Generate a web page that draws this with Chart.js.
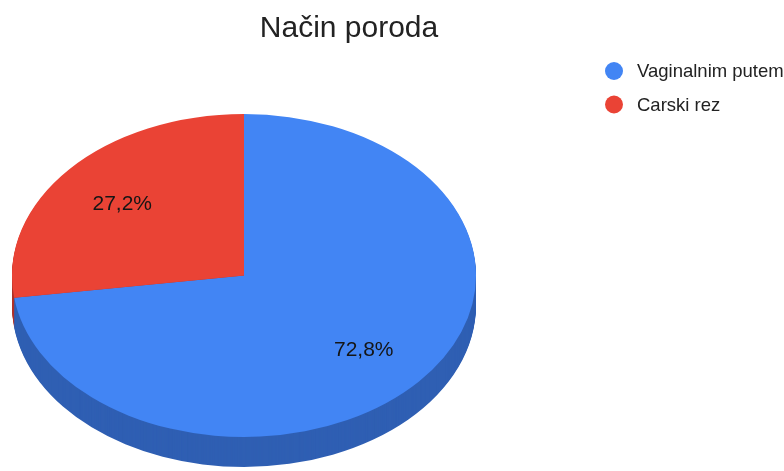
<!DOCTYPE html>
<html>
<head>
<meta charset="utf-8">
<script src="https://cdn.jsdelivr.net/npm/chart.js@4.4.0/dist/chart.umd.min.js"></script>
<style>
  html, body { margin: 0; padding: 0; background: #fff; }
  #wrap { width: 784px; height: 471px; }
</style>
</head>
<body>
<div id="wrap"><canvas id="grafikon" width="784" height="471"></canvas></div>
<script>
// Podaci
const naslov = 'Način poroda';
const kategorije = ['Vaginalnim putem', 'Carski rez'];
const postoci = [72.8, 27.2];
const oznake = ['72,8%', '27,2%'];
const boje = ['#4285f4', '#ea4335'];
const bojeBok = ['#2f5fb3', '#b0342a'];

// Izgled "3D" pite
const sredinaY = 275.5;   // sredina gornje plohe
const omjer = 0.696;      // spljostenost elipse
const dubina = 30;        // debljina pite
const font = "'Liberation Sans', Arial, sans-serif";

function putanja(ctx, a) {
    ctx.beginPath();
    ctx.moveTo(a.x, a.y);
    ctx.arc(a.x, a.y, a.outerRadius, a.startAngle, a.endAngle);
    ctx.closePath();
}

const pita3d = {
    id: 'pita3d',
    beforeDatasetsDraw(chart) {
        const ctx = chart.ctx;
        const arcs = chart.getDatasetMeta(0).data;
        const cy = arcs[0].y;
        // bok pite - zadnji isjecak prvi
        for (let i = arcs.length - 1; i >= 0; i--) {
            for (let d = dubina; d > 0; d--) {
                ctx.save();
                ctx.translate(0, sredinaY + d);
                ctx.scale(1, omjer);
                ctx.translate(0, -cy);
                ctx.fillStyle = bojeBok[i];
                putanja(ctx, arcs[i]);
                ctx.fill();
                ctx.restore();
            }
        }
        // gornja ploha
        ctx.save();
        ctx.translate(0, sredinaY);
        ctx.scale(1, omjer);
        ctx.translate(0, -cy);
    },
    afterDatasetsDraw(chart) {
        const ctx = chart.ctx;
        ctx.restore();
        const arcs = chart.getDatasetMeta(0).data;

        // postoci na isjeccima
        ctx.save();
        ctx.fillStyle = '#151515';
        ctx.font = '21px ' + font;
        ctx.textAlign = 'center';
        ctx.textBaseline = 'middle';
        arcs.forEach((a, i) => {
            const mid = (a.startAngle + a.endAngle) / 2;
            const r = a.outerRadius * 0.69;
            ctx.fillText(oznake[i], a.x + Math.cos(mid) * r - 1, sredinaY + Math.sin(mid) * r * omjer + 1.5);
        });

        // naslov
        ctx.fillStyle = '#222';
        ctx.font = '30px ' + font;
        ctx.textBaseline = 'alphabetic';
        ctx.fillText(naslov, 349, 37);

        // legenda
        ctx.font = '18.5px ' + font;
        ctx.textAlign = 'left';
        ctx.textBaseline = 'middle';
        kategorije.forEach((k, i) => {
            const y = 71 + i * 33.5;
            ctx.fillStyle = boje[i];
            ctx.beginPath();
            ctx.arc(614, y, 9, 0, Math.PI * 2);
            ctx.fill();
            ctx.fillStyle = '#222';
            ctx.fillText(k, 637, y + 1);
        });
        ctx.restore();
    }
};

new Chart(document.getElementById('grafikon'), {
    type: 'pie',
    data: {
        labels: kategorije,
        datasets: [{
            data: postoci,
            backgroundColor: boje,
            borderWidth: 0,
            hoverOffset: 0
        }]
    },
    options: {
        responsive: false,
        devicePixelRatio: 1,
        animation: false,
        radius: 232,
        layout: { padding: { left: 0, right: 296, top: 0, bottom: 0 } },
        plugins: {
            legend: { display: false },
            title: { display: false },
            tooltip: { enabled: false }
        }
    },
    plugins: [pita3d]
});
</script>
</body>
</html>
